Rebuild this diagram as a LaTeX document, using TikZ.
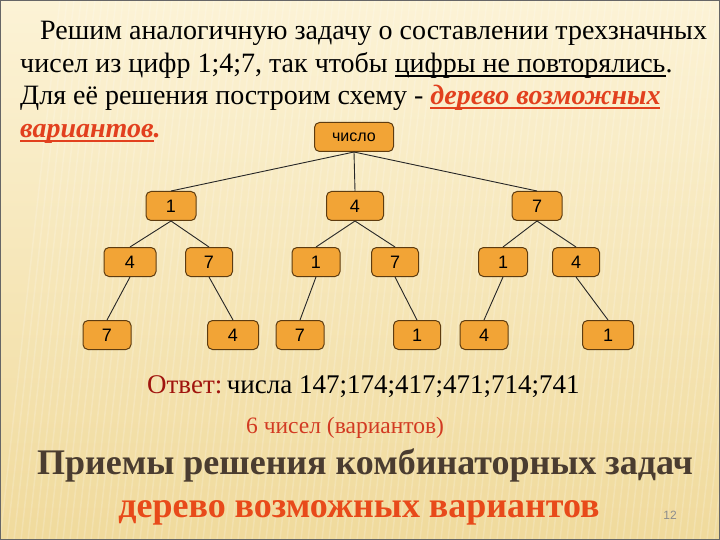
\documentclass[tikz,border=0pt]{standalone}
\usepackage{fontspec}
\setmainfont{Liberation Serif}
\newfontfamily\boxfont{Liberation Sans}
\newcommand\myul[1]{\setbox0\hbox{#1}\rlap{\rule[-4pt]{\wd0}{1.6pt}}\box0}
\definecolor{bgtop}{HTML}{FCF3D6}
\definecolor{bgbot}{HTML}{F0DA9C}
\definecolor{boxfill}{HTML}{F2A436}
\definecolor{boxline}{HTML}{5E3C10}
\definecolor{hl}{HTML}{E2401E}
\definecolor{ans}{HTML}{A0140E}
\definecolor{six}{HTML}{D23A22}
\definecolor{ttl}{HTML}{4A3C30}
\definecolor{ttl2}{HTML}{E84A1A}
\begin{document}
\begin{tikzpicture}[x=1pt,y=-1pt,
  box/.style={draw=boxline, fill=boxfill, rounded corners=5pt, line width=1pt,
    minimum height=29pt, inner sep=0pt, font=\boxfont\fontsize{18}{20}\selectfont},
  edge/.style={draw=black!85, line width=0.9pt},
  stripe/.style={white, opacity=0.18, line width=1.5pt},
  txt/.style={anchor=base west, inner sep=0pt, font=\fontsize{28}{32}\selectfont}]
\useasboundingbox (0,0) rectangle (720,540);
\shade[top color=bgtop, bottom color=bgbot] (0,0) rectangle (720,540);
\begin{scope}
\clip (0,0) rectangle (720,540);
\foreach \i in {0,7,...,735}
  \draw[stripe] (\i,540) -- (\i+60,0);
\end{scope}
\draw[black!60, line width=1.5pt] (0,0) rectangle (720,540);

% text block
\node[txt] (l1) at (40,40) {Решим аналогичную задачу о составлении трехзначных};
\node[txt] (l2) at (20,73) {чисел из цифр 1;4;7, так чтобы \myul{цифры не повторялись}.};
\node[txt] (l3) at (20,105) {Для её решения построим схему - {\color{hl}\bfseries\itshape\myul{дерево возможных}}};
\node[txt] (l4) at (20,138) {{\color{hl}\bfseries\itshape\myul{вариантов}.}};

% tree
\node[box, minimum width=79pt, font=\boxfont\fontsize{16}{18}\selectfont] (r) at (354,137) {число};
\node[box, minimum width=50pt] (a) at (171,206) {1};
\node[box, minimum width=57pt] (b) at (355,206) {4};
\node[box, minimum width=50pt] (c) at (537,206) {7};
\node[box, minimum width=52pt] (a1) at (130,262) {4};
\node[box, minimum width=47pt] (a2) at (209,262) {7};
\node[box, minimum width=48pt] (b1) at (316,262) {1};
\node[box, minimum width=47pt] (b2) at (395,262) {7};
\node[box, minimum width=49pt] (c1) at (503,262) {1};
\node[box, minimum width=47pt] (c2) at (576,262) {4};
\node[box, minimum width=48pt] (a11) at (107,335) {7};
\node[box, minimum width=51pt] (a21) at (233,335) {4};
\node[box, minimum width=48pt] (b11) at (300,335) {7};
\node[box, minimum width=47pt] (b21) at (417,335) {1};
\node[box, minimum width=48pt] (c11) at (484,335) {4};
\node[box, minimum width=51pt] (c21) at (608,335) {1};

\foreach \p/\q in {r/a, r/b, r/c, a/a1, a/a2, b/b1, b/b2, c/c1, c/c2,
  a1/a11, a2/a21, b1/b11, b2/b21, c1/c11, c2/c21}
  \draw[edge] (\p.south) -- (\q.north);

% answer
\node[txt, font=\fontsize{27}{30}\selectfont] (ans) at (147,393) {{\color{ans}Ответ:}\,числа 147;174;417;471;714;741};
\node[txt, font=\fontsize{23.5}{26}\selectfont, text=six] (six) at (246,433) {6 чисел (вариантов)};
\node[anchor=base, inner sep=0pt, font=\fontsize{36}{40}\selectfont\bfseries, text=ttl] (t1) at (365,474) {Приемы решения комбинаторных задач};
\node[anchor=base, inner sep=0pt, font=\fontsize{36}{40}\selectfont\bfseries, text=ttl2] (t2) at (359,517) {дерево возможных вариантов};
\node[anchor=base, inner sep=0pt, font=\boxfont\fontsize{12}{14}\selectfont, text=black!45] (pg) at (670,519) {12};
\end{tikzpicture}
\end{document}
